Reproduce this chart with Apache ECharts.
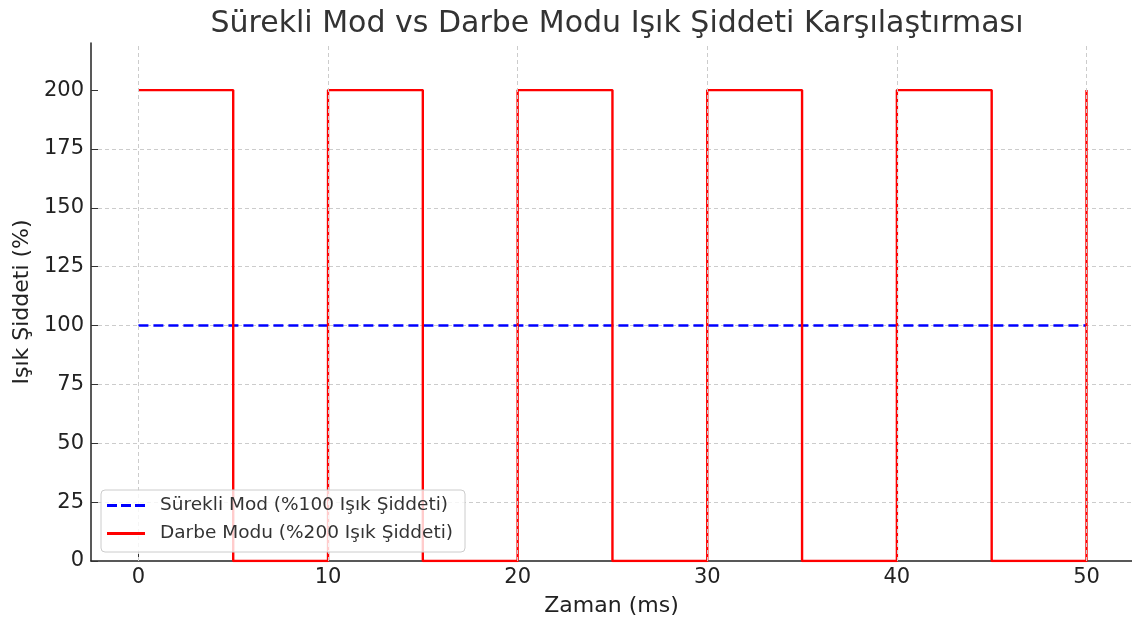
<!DOCTYPE html>
<html lang="tr">
<head>
    <meta charset="UTF-8">
    <script src="https://cdn.jsdelivr.net/npm/echarts@6.0.0/dist/echarts.min.js"></script>
    <title>Işık Şiddeti</title>
    <style>
        *{ margin: 0; padding: 0; }
        #chart{ width: 1132px; height: 624px; background: #fff; }
    </style>
</head>
<body>
    <div id="chart"></div>
<script>
    // zaman (ms) ve değerler
    var surekliX = [0, 50];
    var surekliY = [100, 100];
    var darbeX = [0, 5, 10, 15, 20, 25, 30, 35, 40, 45, 50];
    var darbeY = [200, 0, 200, 0, 200, 0, 200, 0, 200, 0, 200];
    var xTicks = [0, 10, 20, 30, 40, 50];
    var yTicks = [0, 25, 50, 75, 100, 125, 150, 175, 200];

    var font = 'DejaVu Sans';
    function pairs(xs, ys) {
        return xs.map(function (x, i) { return [x, ys[i]]; });
    }

    var chart = echarts.init(document.getElementById('chart'));
    var option = {
        backgroundColor: '#fff',
        animation: false,
        title: {
            text: 'Sürekli Mod vs Darbe Modu Işık Şiddeti Karşılaştırması',
            left: 612, top: 4, textAlign: 'center',
            textStyle: { fontFamily: font, fontSize: 30, fontWeight: 'normal', color: '#333' }
        },
        grid: { left: 91, right: -2, top: 43, bottom: 63, containLabel: false },
        legend: {
            z: 20,
            orient: 'vertical',
            left: 101, top: 490,
            padding: [6, 12, 9, 6],
            itemGap: 9,
            itemWidth: 38, itemHeight: 3,
            backgroundColor: 'rgba(255,255,255,0.8)',
            borderColor: '#ccc', borderWidth: 1, borderRadius: 4,
            textStyle: { fontFamily: font, fontSize: 18.5, color: '#333', padding: [0, 0, 0, 10] },
            data: [
                { name: 'Sürekli Mod (%100 Işık Şiddeti)',
                  icon: 'path://M0,0h10v3h-10z M14,0h10v3h-10z M28,0h10v3h-10z' },
                { name: 'Darbe Modu (%200 Işık Şiddeti)', icon: 'path://M0,0h38v3h-38z' }
            ]
        },
        xAxis: {
            type: 'value', min: -2.5, max: 52.4,
            name: 'Zaman (ms)', nameLocation: 'middle', nameGap: 34,
            nameTextStyle: { fontFamily: font, fontSize: 22, color: '#222' },
            axisLine: { onZero: false, lineStyle: { color: '#222', width: 1.5 } },
            axisTick: { customValues: xTicks, inside: true, length: 7, lineStyle: { color: '#333' } },
            axisLabel: { customValues: xTicks, fontFamily: font, fontSize: 21, color: '#222', margin: 6 },
            splitLine: { show: false }
        },
        yAxis: {
            type: 'value', min: 0, max: 220, interval: 25,
            name: 'Işık Şiddeti (%)', nameLocation: 'middle', nameGap: 58,
            nameTextStyle: { fontFamily: font, fontSize: 22, color: '#222' },
            axisLine: { show: true, onZero: false, lineStyle: { color: '#222', width: 1.5 } },
            axisTick: { show: true, customValues: yTicks, inside: true, length: 7, lineStyle: { color: '#333' } },
            axisLabel: { customValues: yTicks, fontFamily: font, fontSize: 21, color: '#222', margin: 7 },
            splitLine: { show: true, showMinLine: false, showMaxLine: false,
                lineStyle: { color: '#ccc', type: [4, 3], width: 1 } }
        },
        series: [
            {
                name: 'grid',
                type: 'line', data: [], silent: true, z: 1,
                markLine: {
                    silent: true, symbol: 'none', label: { show: false },
                    lineStyle: { color: '#ccc', type: [4, 3], width: 1 },
                    data: xTicks.map(function (v) { return { xAxis: v }; })
                }
            },
            {
                name: 'Sürekli Mod (%100 Işık Şiddeti)',
                type: 'line', data: pairs(surekliX, surekliY),
                showSymbol: false, z: 3,
                color: '#0000ff',
                lineStyle: { color: '#0000ff', width: 2.4, type: [10, 5] }
            },
            {
                name: 'Darbe Modu (%200 Işık Şiddeti)',
                type: 'line', step: 'end', data: pairs(darbeX, darbeY),
                showSymbol: false, z: 4,
                color: '#ff0000',
                lineStyle: { color: '#ff0000', width: 2.4 }
            }
        ]
    };
    chart.setOption(option);
</script>
</body>
</html>
